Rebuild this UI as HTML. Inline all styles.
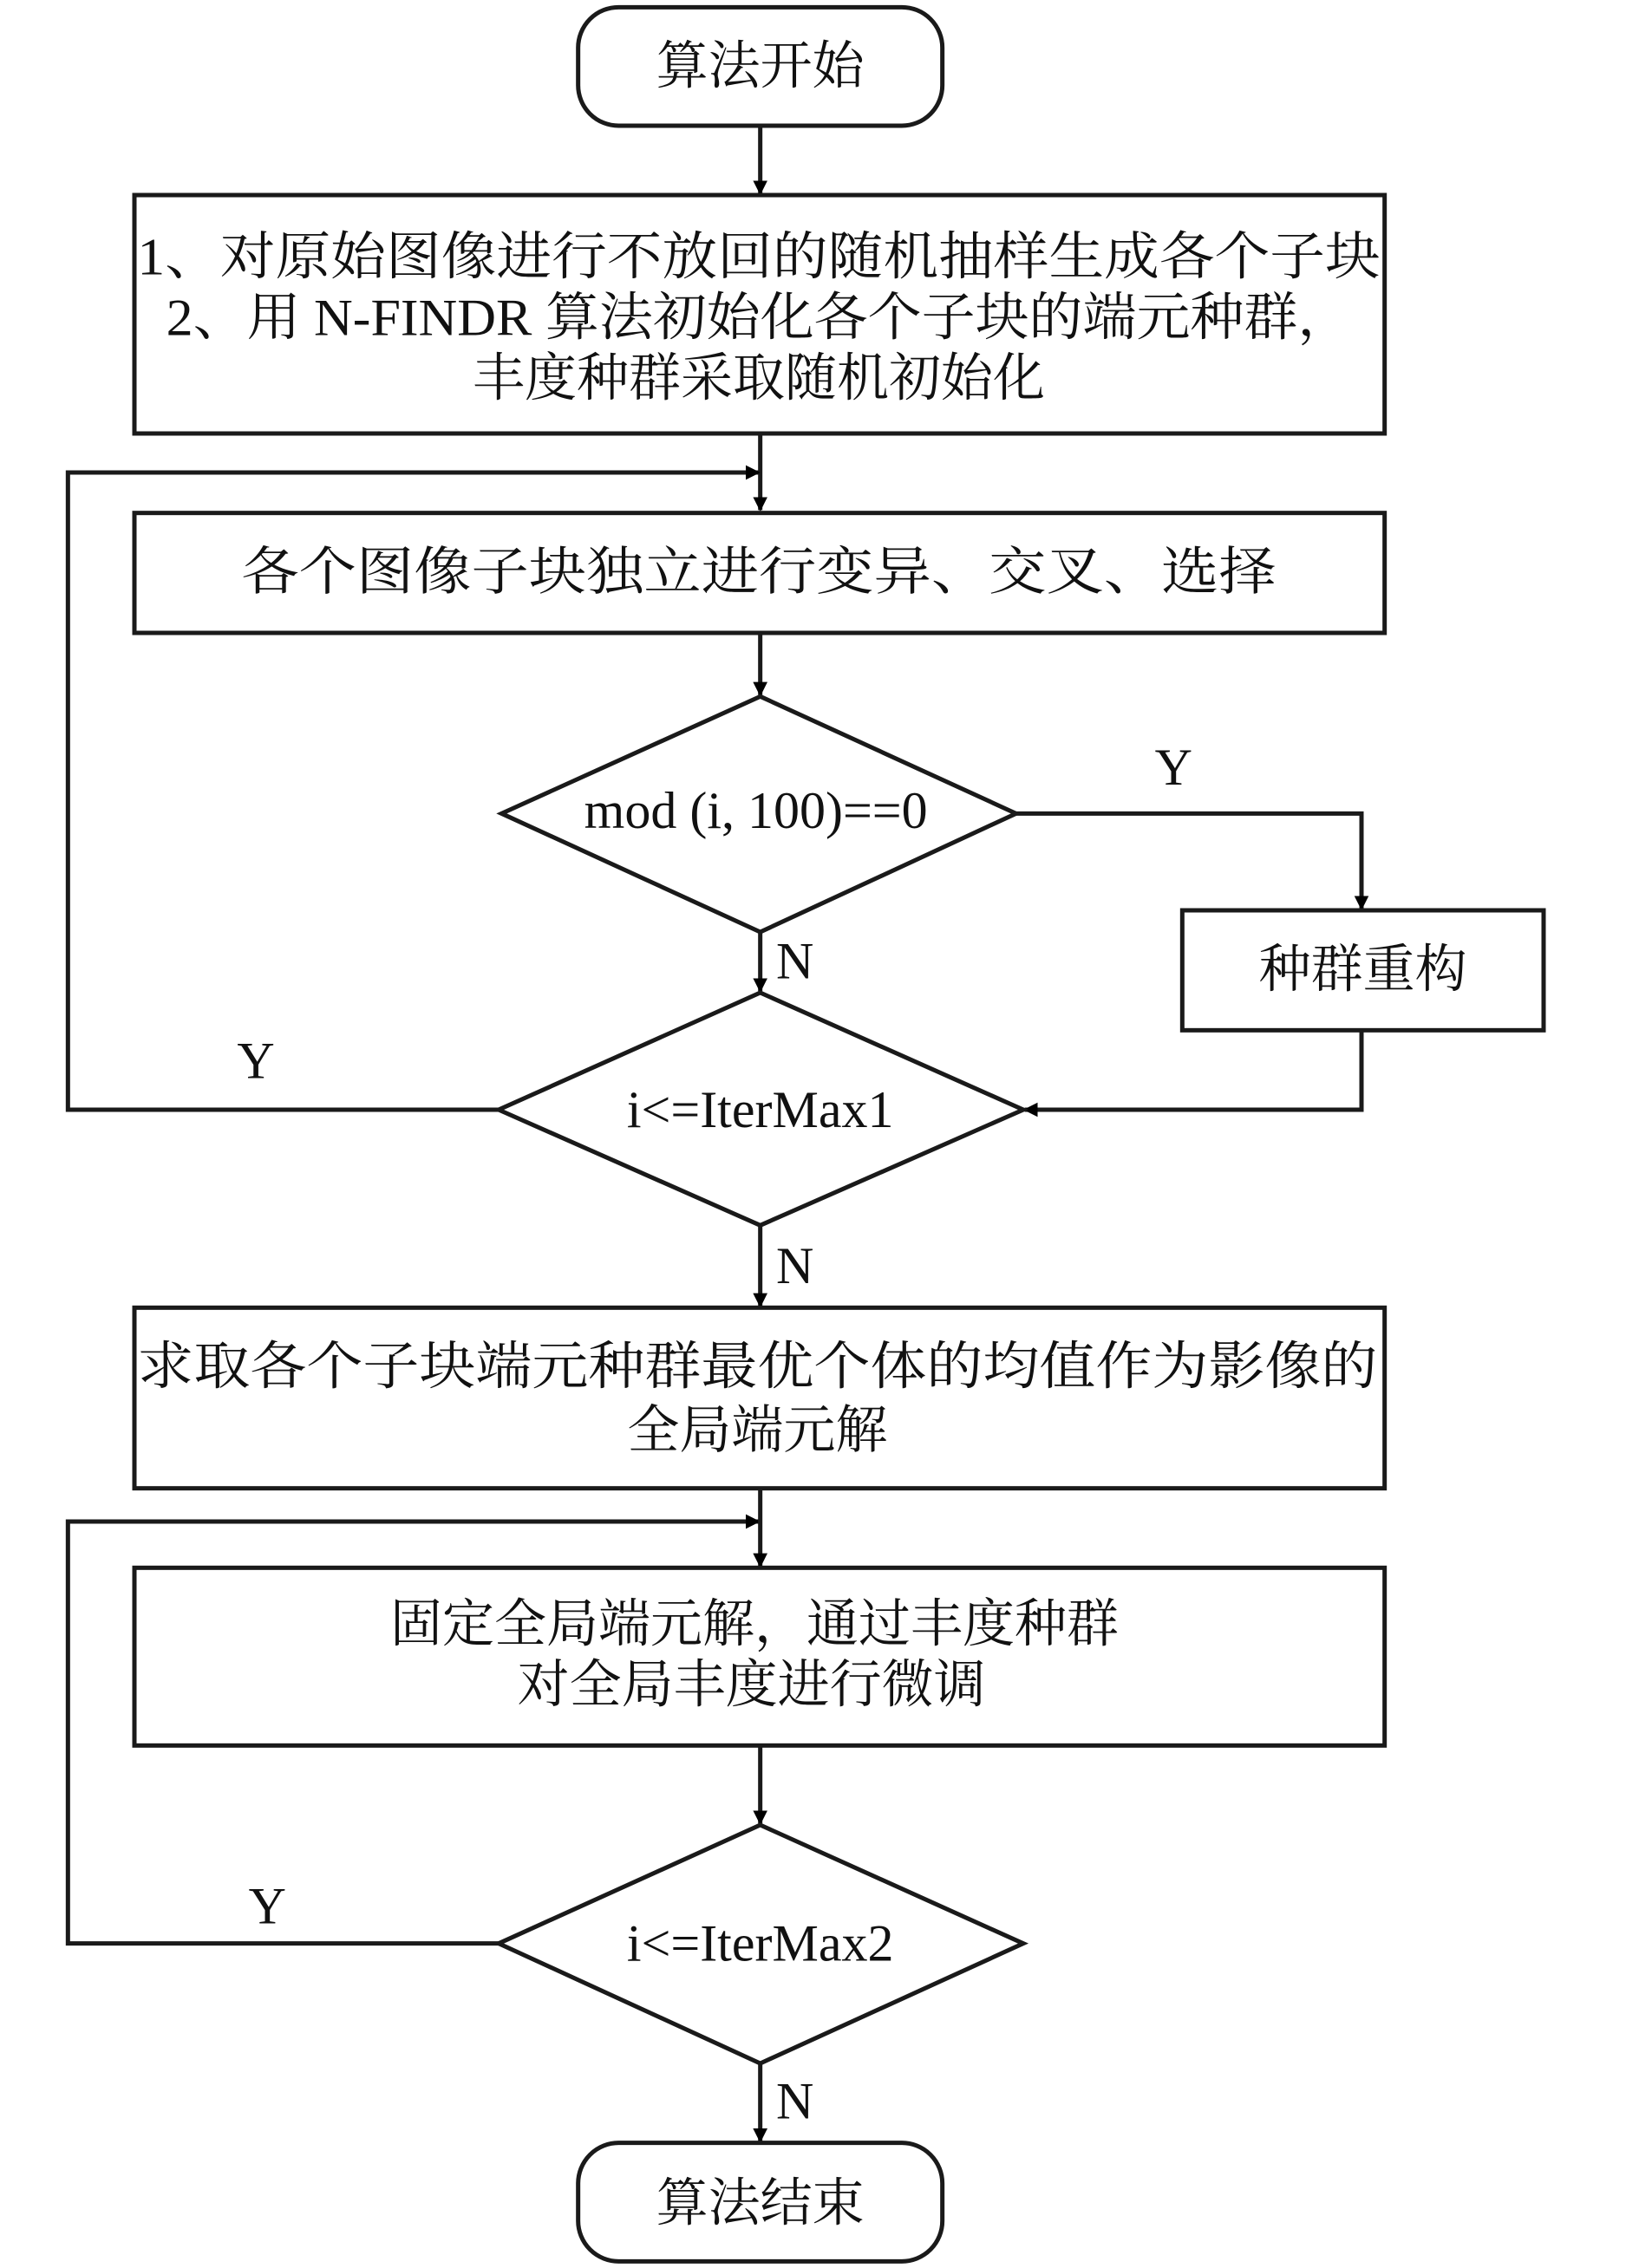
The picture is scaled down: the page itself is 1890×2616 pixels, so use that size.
<!DOCTYPE html>
<html><head><meta charset="utf-8"><style>html,body{margin:0;padding:0;background:#fff}svg{display:block}</style></head>
<body>
<svg width="1890" height="2616" viewBox="0 0 1134 1569.6" xmlns="http://www.w3.org/2000/svg">
<defs><marker id="a" markerWidth="10" markerHeight="10" refX="9" refY="5" orient="auto" markerUnits="userSpaceOnUse"><path d="M0,0 L10,5 L0,10 z" fill="#000"/></marker></defs>
<g fill="none" stroke="#1a1a1a" stroke-width="3">
<rect x="400" y="5" width="252" height="82" rx="28"/>
<line x1="526" y1="87" x2="526" y2="134" marker-end="url(#a)"/>
<rect x="93" y="135" width="865" height="165"/>
<line x1="526" y1="300" x2="526" y2="353" marker-end="url(#a)"/>
<polyline points="345,768 47,768 47,327 525,327" marker-end="url(#a)"/>
<rect x="93" y="355" width="865" height="83"/>
<line x1="526" y1="438" x2="526" y2="481" marker-end="url(#a)"/>
<polygon points="526,482 703,563 526,645 347,563"/>
<polyline points="703,563 942,563 942,629" marker-end="url(#a)"/>
<rect x="818" y="630" width="250" height="83"/>
<polyline points="942,713 942,768 709,768" marker-end="url(#a)"/>
<line x1="526" y1="645" x2="526" y2="686" marker-end="url(#a)"/>
<polygon points="526,687 708,768 526,848 345,768"/>
<line x1="526" y1="848" x2="526" y2="904" marker-end="url(#a)"/>
<rect x="93" y="905" width="865" height="125"/>
<polyline points="345,1345 47,1345 47,1053 525,1053" marker-end="url(#a)"/>
<line x1="526" y1="1030" x2="526" y2="1084" marker-end="url(#a)"/>
<rect x="93" y="1085" width="865" height="123"/>
<line x1="526" y1="1208" x2="526" y2="1262" marker-end="url(#a)"/>
<polygon points="526,1263 708,1345 526,1428 345,1345"/>
<line x1="526" y1="1428" x2="526" y2="1482" marker-end="url(#a)"/>
<rect x="400" y="1483" width="252" height="82" rx="28"/>
</g>
<g font-family="'Liberation Serif','Noto Serif CJK SC',serif" font-size="36" fill="#111" text-anchor="middle">
<text x="526" y="58">算法开始</text>
<text x="525" y="190" textLength="860" lengthAdjust="spacingAndGlyphs">1、对原始图像进行不放回的随机抽样生成各个子块</text>
<text x="525" y="232" textLength="820" lengthAdjust="spacingAndGlyphs">2、用 N-FINDR 算法初始化各个子块的端元种群，</text>
<text x="525" y="274">丰度种群采取随机初始化</text>
<text x="525" y="408" textLength="716" lengthAdjust="spacingAndGlyphs">各个图像子块独立进行变异、交叉、选择</text>
<text x="523" y="573">mod (i, 100)==0</text>
<text x="812" y="543">Y</text>
<text x="943" y="683">种群重构</text>
<text x="550" y="677">N</text>
<text x="526" y="780">i&lt;=IterMax1</text>
<text x="177" y="746">Y</text>
<text x="550" y="888">N</text>
<text x="524" y="958" textLength="858" lengthAdjust="spacingAndGlyphs">求取各个子块端元种群最优个体的均值作为影像的</text>
<text x="524" y="1002">全局端元解</text>
<text x="522" y="1136">固定全局端元解，通过丰度种群</text>
<text x="520" y="1178">对全局丰度进行微调</text>
<text x="185" y="1331">Y</text>
<text x="526" y="1357">i&lt;=IterMax2</text>
<text x="550" y="1466">N</text>
<text x="526" y="1537">算法结束</text>
</g>
</svg>
</body></html>
